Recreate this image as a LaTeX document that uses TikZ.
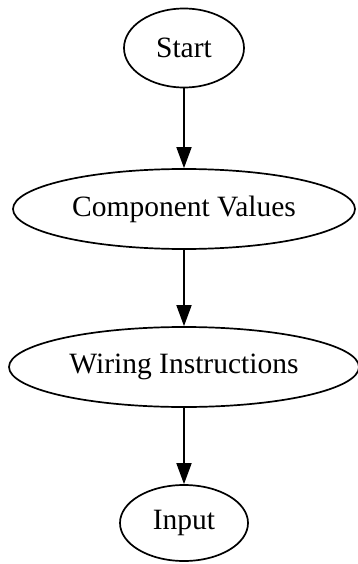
\documentclass[tikz,border=0pt]{standalone}
\usepackage{fontspec}
\setmainfont{Liberation Serif}
\usetikzlibrary{shapes.geometric,arrows.meta}
\begin{document}
\begin{tikzpicture}[x=1pt,y=-1pt,
  state/.style={draw, ellipse, line width=1.7pt, inner sep=0pt,
    font=\fontsize{29.5}{34}\selectfont},
  flow/.style={line width=1.7pt, -{Triangle[width=15pt,length=21pt]}}]
  \useasboundingbox (0,0) rectangle (358,564);
  \node[state, minimum width=120, minimum height=79] (start) at (184,48) {Start};
  \node[state, minimum width=342, minimum height=80] (comp) at (184,209) {Component Values};
  \node[state, minimum width=350, minimum height=80] (wire) at (184,367) {Wiring Instructions};
  \node[state, minimum width=128, minimum height=76] (input) at (184,523) {Input};
  \draw[flow] (start) -- (comp);
  \draw[flow] (comp) -- (wire);
  \draw[flow] (wire) -- (input);
\end{tikzpicture}
\end{document}
